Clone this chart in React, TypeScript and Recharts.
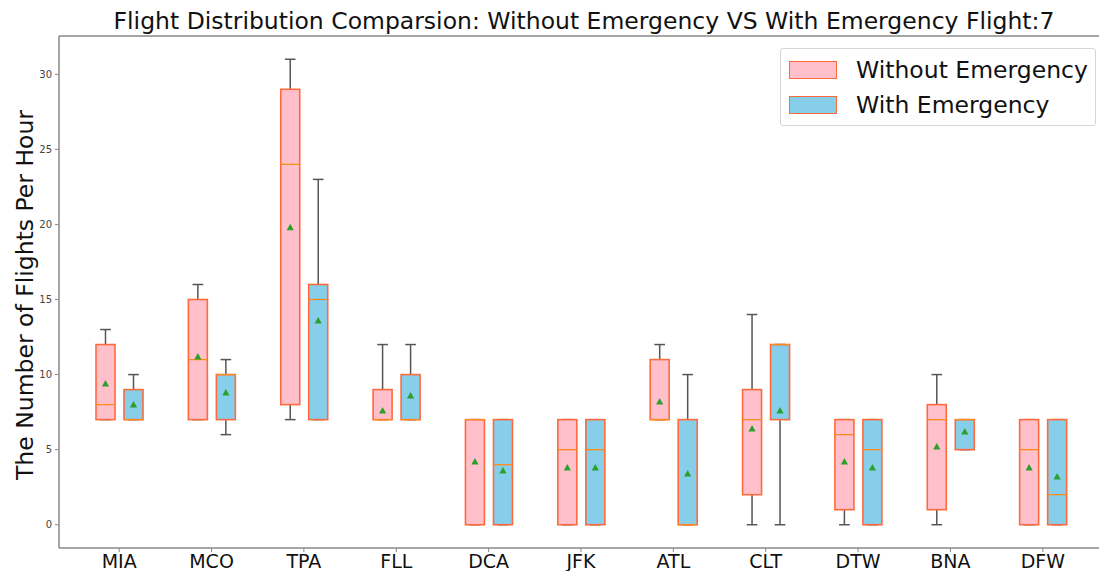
import { Bar, ComposedChart, ReferenceLine, XAxis, YAxis } from "recharts";

const categories = ["MIA", "MCO", "TPA", "FLL", "DCA", "JFK", "ATL", "CLT", "DTW", "BNA", "DFW"];

// Without emergency: five-number summary + mean
const woMin = [7, 7, 7, 7, 0, 0, 7, 0, 0, 0, 0];
const woQ1 = [7, 7, 8, 7, 0, 0, 7, 2, 1, 1, 0];
const woMed = [8, 11, 24, 7, 7, 5, 7, 7, 6, 7, 5];
const woQ3 = [12, 15, 29, 9, 7, 7, 11, 9, 7, 8, 7];
const woMax = [13, 16, 31, 12, 7, 7, 12, 14, 7, 10, 7];
const woMean = [9.4, 11.2, 19.8, 7.6, 4.2, 3.8, 8.2, 6.4, 4.2, 5.2, 3.8];

// With emergency
const wMin = [7, 6, 7, 7, 0, 0, 0, 0, 0, 5, 0];
const wQ1 = [7, 7, 7, 7, 0, 0, 0, 7, 0, 5, 0];
const wMed = [7, 10, 15, 7, 4, 5, 0, 12, 5, 7, 2];
const wQ3 = [9, 10, 16, 10, 7, 7, 7, 12, 7, 7, 7];
const wMax = [10, 11, 23, 12, 7, 7, 10, 12, 7, 7, 7];
const wMean = [8.0, 8.8, 13.6, 8.6, 3.6, 3.8, 3.4, 7.6, 3.8, 6.2, 3.2];

const yTicks = [0, 5, 10, 15, 20, 25, 30];
const Y_DOMAIN: [number, number] = [-1.55, 32.55];

const PINK = "#ffc0cb";
const BLUE = "#87ceeb";
const EDGE = "#ff6a3d";
const SPINE = "#888";
const FONT = "'DejaVu Sans', sans-serif";

type Stats = { min: number; q1: number; med: number; q3: number; max: number; mean: number };

const data = categories.map((cat, i) => ({
  cat,
  without: [woMin[i], woMax[i]],
  with: [wMin[i], wMax[i]],
  woStats: { min: woMin[i], q1: woQ1[i], med: woMed[i], q3: woQ3[i], max: woMax[i], mean: woMean[i] },
  wStats: { min: wMin[i], q1: wQ1[i], med: wMed[i], q3: wQ3[i], max: wMax[i], mean: wMean[i] },
}));

// Box drawn inside the [min, max] bar rect that recharts lays out on the y scale.
function BoxShape(props: any) {
  const { x, y, width, height, stats, fill } = props as { stats: Stats; fill: string } & Record<string, number>;
  const top = Math.min(y, y + height);
  const bottom = Math.max(y, y + height);
  const span = stats.max - stats.min || 1;
  const py = (v: number) => bottom - ((v - stats.min) / span) * (bottom - top);
  const cx = x + width / 2;
  const cap = width * 0.28;
  const tri = 3.6;
  const my = py(stats.mean);
  return (
    <g>
      <line x1={cx} x2={cx} y1={py(stats.max)} y2={py(stats.q3)} stroke="#555" strokeWidth={1.5} />
      <line x1={cx} x2={cx} y1={py(stats.q1)} y2={py(stats.min)} stroke="#555" strokeWidth={1.5} />
      <line x1={cx - cap} x2={cx + cap} y1={py(stats.max)} y2={py(stats.max)} stroke="#555" strokeWidth={1.5} />
      <line x1={cx - cap} x2={cx + cap} y1={py(stats.min)} y2={py(stats.min)} stroke="#555" strokeWidth={1.5} />
      <rect
        x={x}
        y={py(stats.q3)}
        width={width}
        height={Math.max(py(stats.q1) - py(stats.q3), 0.5)}
        fill={fill}
        stroke={EDGE}
        strokeWidth={1.6}
      />
      <line x1={x} x2={x + width} y1={py(stats.med)} y2={py(stats.med)} stroke="#ff8c1a" strokeWidth={1.3} />
      <polygon
        points={`${cx},${my - tri} ${cx - tri},${my + tri * 0.8} ${cx + tri},${my + tri * 0.8}`}
        fill="#2ca02c"
      />
    </g>
  );
}

function LegendBox() {
  const item = (label: string, color: string) => (
    <div style={{ display: "flex", alignItems: "center", height: 35, whiteSpace: "nowrap" }}>
      <div
        style={{
          flex: "none",
          width: 46,
          height: 16,
          background: color,
          border: `1.5px solid ${EDGE}`,
          marginRight: 19,
        }}
      />
      <span style={{ fontSize: 23.5, color: "#111", whiteSpace: "nowrap" }}>{label}</span>
    </div>
  );
  return (
    <div
      style={{
        position: "absolute",
        left: 780,
        top: 48,
        boxSizing: "border-box",
        width: 316,
        border: "1px solid #d6d6d6",
        borderRadius: 3,
        background: "#fff",
        padding: "3px 0 3px 8px",
        fontFamily: FONT,
      }}
    >
      {item("Without Emergency", PINK)}
      {item("With Emergency", BLUE)}
    </div>
  );
}

export default function App() {
  return (
    <div
      style={{
        position: "absolute",
        left: 0,
        top: 0,
        width: 1099,
        height: 571,
        overflow: "hidden",
        background: "#fff",
        fontFamily: FONT,
      }}
    >
      <div
        style={{
          position: "absolute",
          left: 62,
          width: 1044,
          top: 7,
          textAlign: "center",
          fontSize: 23.5,
          color: "#111",
          whiteSpace: "nowrap",
        }}
      >
        Flight Distribution Comparsion: Without Emergency VS With Emergency Flight:7
      </div>
      <div
        style={{
          position: "absolute",
          left: 25,
          top: 295,
          transform: "translate(-50%, -50%) rotate(-90deg)",
          whiteSpace: "nowrap",
          fontSize: 23.5,
          color: "#111",
        }}
      >
        The Number of Flights Per Hour
      </div>
      <ComposedChart
        width={1105}
        height={571}
        data={data}
        margin={{ top: 36, right: 2, left: 0, bottom: 0 }}
        barSize={19}
        barGap={9}
      >
        <XAxis
          dataKey="cat"
          height={23}
          padding={{ left: 14, right: 14 }}
          tick={{ fontSize: 19, fill: "#111", fontFamily: FONT }}
          tickSize={4}
          tickMargin={3}
          axisLine={{ stroke: SPINE, strokeWidth: 1.5 }}
          tickLine={{ stroke: SPINE }}
        />
        <YAxis
          domain={Y_DOMAIN}
          ticks={yTicks}
          width={59}
          allowDataOverflow
          tick={{ fontSize: 10, fill: "#444", fontFamily: FONT }}
          tickSize={4}
          tickMargin={3}
          axisLine={{ stroke: SPINE, strokeWidth: 1.5 }}
          tickLine={{ stroke: SPINE }}
        />
        <ReferenceLine y={Y_DOMAIN[1]} stroke={SPINE} strokeWidth={1.5} />
        <Bar
          dataKey="without"
          name="Without Emergency"
          fill={PINK}
          isAnimationActive={false}
          shape={(p: any) => <BoxShape {...p} stats={p.payload.woStats} fill={PINK} />}
        />
        <Bar
          dataKey="with"
          name="With Emergency"
          fill={BLUE}
          isAnimationActive={false}
          shape={(p: any) => <BoxShape {...p} stats={p.payload.wStats} fill={BLUE} />}
        />
      </ComposedChart>
      <LegendBox />
    </div>
  );
}
